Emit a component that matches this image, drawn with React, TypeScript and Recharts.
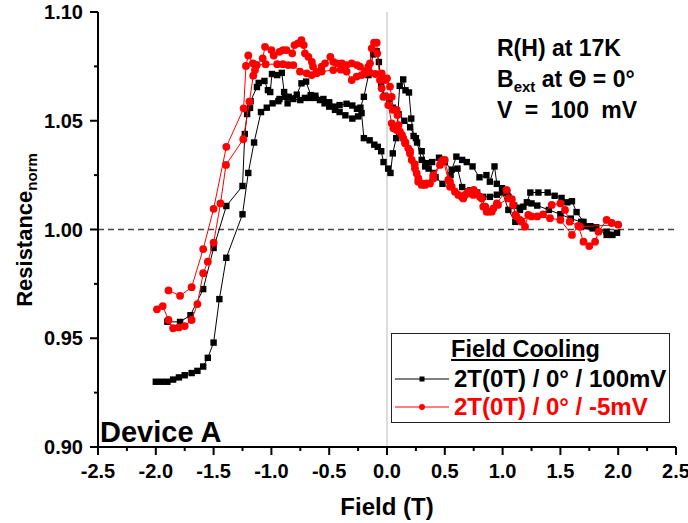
import React from 'react';
import { ScatterChart, Scatter, XAxis, YAxis, ReferenceLine, Legend } from 'recharts';

const FONT = "'Liberation Sans', Arial, Helvetica, sans-serif";
const RED = '#ff0000';

// axis ticks (majors carry labels)
const xTicks = [-2.5, -2.25, -2, -1.75, -1.5, -1.25, -1, -0.75, -0.5, -0.25, 0, 0.25, 0.5, 0.75, 1, 1.25, 1.5, 1.75, 2, 2.25, 2.5];
const xLabels = [-2.5, -2, -1.5, -1, -0.5, 0, 0.5, 1, 1.5, 2, 2.5];
const yTicks = [0.9, 0.925, 0.95, 0.975, 1, 1.025, 1.05, 1.075, 1.1];
const yLabels = [0.9, 0.95, 1, 1.05, 1.1];

// 2T(0T) / 0° / 100mV  (sweep out from -2 T, then back)
const blackField = [
  -2.0, -1.95, -1.9, -1.85, -1.8, -1.75, -1.69, -1.64, -1.59, -1.55,
  -1.5, -1.45, -1.39, -1.25, -1.2, -1.15, -1.09, -1.04, -0.99, -0.94,
  -0.93, -0.88, -0.86, -0.81, -0.75, -0.71, -0.67, -0.62, -0.58, -0.54,
  -0.5, -0.45, -0.41, -0.36, -0.3, -0.25, -0.22, -0.2, -0.15, -0.11,
  -0.08, -0.05, -0.03, 0.01, 0.03, 0.05, 0.08, 0.11, 0.14, 0.16,
  0.19, 0.21, 0.23, 0.26, 0.3, 0.33, 0.36, 0.4, 0.42, 0.48,
  0.55, 0.61, 0.65, 0.72, 0.78, 0.83, 0.89, 0.95, 1.0, 1.05,
  1.11, 1.15, 1.18, 1.21, 1.24, 1.31, 1.39, 1.45, 1.51, 1.56,
  1.6, 1.64, 1.7, 1.76, 1.81, 1.9, 1.95, 1.99,
  1.9, 1.78, 1.71, 1.68, 1.59, 1.5, 1.4, 1.3, 1.25, 1.15,
  1.1, 1.05, 1.04, 0.995, 0.95, 0.93, 0.89, 0.86, 0.8, 0.74,
  0.69, 0.65, 0.6, 0.56, 0.5, 0.45, 0.39, 0.34, 0.3, 0.25,
  0.2, 0.15, 0.1, 0.05, 0.02, -0.02, -0.05, -0.07, -0.09, -0.12,
  -0.16, -0.2, -0.23, -0.26, -0.3, -0.35, -0.41, -0.45, -0.5, -0.55,
  -0.62, -0.66, -0.7, -0.74, -0.78, -0.85, -0.89, -0.91, -0.95, -0.995,
  -1.01, -1.03, -1.06, -1.11, -1.125, -1.18, -1.185, -1.21, -1.23, -1.25,
  -1.39, -1.5, -1.59, -1.7, -1.79, -1.9
];
const blackRes = [
  0.93, 0.93, 0.93, 0.931, 0.932, 0.933, 0.934, 0.935, 0.937, 0.941,
  0.948, 0.968, 0.987, 1.007, 1.026, 1.04, 1.054, 1.056, 1.058, 1.059,
  1.06, 1.061, 1.058, 1.06, 1.0595, 1.0605, 1.0605, 1.0605, 1.0595, 1.058,
  1.0565, 1.055, 1.054, 1.0525, 1.051, 1.052, 1.0535, 1.042, 1.041, 1.039,
  1.038, 1.036, 1.031, 1.028, 1.026, 1.035, 1.042, 1.066, 1.069, 1.064,
  1.063, 1.051, 1.043, 1.04, 1.032, 1.029, 1.028, 1.026, 1.024, 1.021,
  1.025, 1.028, 1.0195, 1.018, 1.017, 1.015, 1.015, 1.016, 1.017, 1.009,
  1.0035, 1.009, 1.0105, 1.0125, 1.017, 1.017, 1.017, 1.0155, 1.0145, 1.0125,
  1.013, 1.008, 1.0035, 1.0015, 1.001, 0.9975, 0.9975, 0.9985,
  0.999, 1.0005, 1.0015, 1.0035, 1.005, 1.007, 1.009, 1.011, 1.012, 1.01,
  1.011, 1.015, 1.017, 1.019, 1.021, 1.029, 1.022, 1.025, 1.024, 1.029,
  1.031, 1.032, 1.0335, 1.0275, 1.031, 1.033, 1.031, 1.0305, 1.036, 1.042,
  1.047, 1.05, 1.053, 1.056, 1.06, 1.0615, 1.066, 1.077, 1.082, 1.0805,
  1.071, 1.061, 1.056, 1.0555, 1.057, 1.0578, 1.0572, 1.0565, 1.0585, 1.06,
  1.0615, 1.0618, 1.068, 1.0672, 1.062, 1.061, 1.0632, 1.072, 1.071, 1.0715,
  1.0632, 1.0641, 1.0683, 1.0674, 1.0655, 1.059, 1.0559, 1.0531, 1.0439, 1.02,
  1.0108, 0.9915, 0.9726, 0.9606, 0.9575, 0.9576
];

// 2T(0T) / 0° / -5mV
const redField = [
  -1.89, -1.79, -1.69, -1.59, -1.5, -1.39, -1.24, -1.22, -1.2, -1.16,
  -1.13, -1.075, -1.055, -1.0, -0.98, -0.93, -0.9, -0.87, -0.82, -0.8,
  -0.77, -0.74, -0.72, -0.71, -0.68, -0.65, -0.64, -0.61, -0.565, -0.536,
  -0.49, -0.465, -0.435, -0.39, -0.35, -0.305, -0.26, -0.234, -0.19, -0.15,
  -0.1, -0.046, -0.017, 0.0, 0.026, 0.041, 0.055, 0.084, 0.09, 0.1,
  0.13, 0.16, 0.2, 0.24, 0.27, 0.3, 0.34, 0.4, 0.47, 0.5,
  0.545, 0.56, 0.617, 0.66, 0.7, 0.75, 0.82, 0.85, 0.88, 0.92,
  0.96, 1.05, 1.09, 1.12, 1.165, 1.194, 1.222, 1.3, 1.41, 1.5,
  1.6, 1.655, 1.7, 1.75, 1.8, 1.83, 1.9, 1.944, 2.0,
  1.67, 1.58, 1.54, 1.5, 1.425, 1.35, 1.25, 1.15, 1.11, 1.08,
  1.035, 0.95, 0.906, 0.862, 0.833, 0.804, 0.776, 0.747, 0.703, 0.675,
  0.646, 0.588, 0.545, 0.53, 0.487, 0.458, 0.4, 0.372, 0.329, 0.3,
  0.271, 0.257, 0.242, 0.214, 0.199, 0.184, 0.156, 0.141, 0.112, 0.084,
  0.055, 0.041, 0.011, -0.003, -0.032, -0.046, -0.061, -0.084, -0.089, -0.112,
  -0.132, -0.147, -0.162, -0.19, -0.219, -0.262, -0.305, -0.349, -0.4, -0.465,
  -0.565, -0.608, -0.651, -0.695, -0.753, -0.81, -0.854, -0.9, -0.95, -1.05,
  -1.127, -1.142, -1.157, -1.19, -1.243, -1.393, -1.44, -1.5, -1.55, -1.59,
  -1.64, -1.69, -1.75, -1.8, -1.85, -1.89, -1.94, -1.99
];
const redRes = [
  0.972, 0.9695, 0.9735, 0.991, 1.0095, 1.038, 1.0557, 1.0752, 1.08, 1.0764,
  1.0756, 1.0787, 1.084, 1.0825, 1.08, 1.0817, 1.0825, 1.0825, 1.081, 1.0848,
  1.0856, 1.0871, 1.0848, 1.081, 1.0794, 1.0771, 1.0749, 1.0726, 1.0749, 1.0764,
  1.0794, 1.0771, 1.0764, 1.0764, 1.0756, 1.0764, 1.0756, 1.0749, 1.0728, 1.0722,
  1.0715, 1.0718, 1.0687, 1.0695, 1.0657, 1.061, 1.055, 1.055, 1.0526, 1.048,
  1.0435, 1.04, 1.036, 1.03, 1.022, 1.0205, 1.0212, 1.025, 1.0312, 1.032,
  1.022, 1.0197, 1.0159, 1.0143, 1.0174, 1.0182, 1.0143, 1.0105, 1.0082, 1.0097,
  1.0113, 1.0143, 1.0113, 1.006, 1.0036, 1.0013, 1.0067, 1.006, 1.0052, 1.0044,
  0.9975, 1.0016, 0.9944, 0.9924, 0.9944, 0.999, 1.0044, 1.003, 1.0022,
  1.0013, 1.0036, 1.009, 1.012, 1.0113, 1.007, 1.006, 1.0044, 1.0067, 1.0139,
  1.0182, 1.012, 1.0082, 1.0082, 1.0105, 1.0151, 1.0166, 1.0159, 1.0166, 1.0159,
  1.0151, 1.0174, 1.0197, 1.0228, 1.032, 1.0297, 1.0235, 1.0212, 1.0205, 1.0212,
  1.0235, 1.0258, 1.0281, 1.032, 1.035, 1.0373, 1.0396, 1.0419, 1.045, 1.0457,
  1.0465, 1.0488, 1.0572, 1.061, 1.061, 1.0649, 1.0687, 1.081, 1.0859, 1.0859,
  1.0833, 1.0764, 1.0749, 1.0718, 1.071, 1.0703, 1.0687, 1.0726, 1.0735, 1.0733,
  1.0726, 1.0718, 1.071, 1.0718, 1.0726, 1.0756, 1.0756, 1.076, 1.076, 1.076,
  1.0756, 1.0733, 1.0707, 1.0588, 1.0415, 1.0297, 1.012, 0.9939, 0.9852, 0.9799,
  0.9657, 0.9584, 0.9556, 0.955, 0.9546, 0.9584, 0.9648, 0.9633
];

const blackData = blackField.map((x, i) => ({ x, y: blackRes[i] }));
const redData = redField.map((x, i) => ({ x, y: redRes[i] }));

const isMajor = (list: number[], v: number) => list.some(m => Math.abs(m - v) < 1e-6);

const labelStyle = { fontFamily: FONT, fontWeight: 700, fill: '#000' } as const;

const BottomTick = ({ x, y, payload }: any) => {
  const major = isMajor(xLabels, payload.value);
  return (
    <g>
      <line x1={x} x2={x} y1={y} y2={y + (major ? 8 : 4)} stroke="#000" strokeWidth={2} />
      {major && (
        <text x={x} y={y + 31} textAnchor="middle" fontSize={20} {...labelStyle}>
          {payload.value.toFixed(1)}
        </text>
      )}
    </g>
  );
};

const TopTick = ({ x, y, payload }: any) => {
  const major = isMajor(xLabels, payload.value);
  return <line x1={x} x2={x} y1={y} y2={y + (major ? 8 : 4)} stroke="#000" strokeWidth={2} />;
};

const LeftTick = ({ x, y, payload }: any) => {
  const major = isMajor(yLabels, payload.value);
  return (
    <g>
      <line x1={x - (major ? 8 : 4)} x2={x} y1={y} y2={y} stroke="#000" strokeWidth={2} />
      {major && (
        <text x={x - 15} y={y + 7} textAnchor="end" fontSize={20} {...labelStyle}>
          {payload.value.toFixed(2)}
        </text>
      )}
    </g>
  );
};

const RightTick = ({ x, y, payload }: any) => {
  const major = isMajor(yLabels, payload.value);
  return <line x1={x - (major ? 8 : 4)} x2={x} y1={y} y2={y} stroke="#000" strokeWidth={2} />;
};

const SquareDot = (p: any) => <rect x={p.cx - 3.2} y={p.cy - 3.2} width={6.4} height={6.4} fill="#000" />;
const RoundDot = (p: any) => <circle cx={p.cx} cy={p.cy} r={3.9} fill={RED} />;

const LegendBox = () => (
  <div
    style={{
      position: 'relative',
      width: 279,
      height: 90,
      border: '1px solid #222',
      boxSizing: 'border-box',
      background: '#fff',
      fontFamily: FONT,
      fontWeight: 700,
      lineHeight: '26px'
    }}
  >
    <div style={{ position: 'absolute', left: 0, right: 10, top: 2, textAlign: 'center', fontSize: 23.5, textDecoration: 'underline' }}>
      Field Cooling
    </div>
    {[
      { label: '2T(0T) / 0° / 100mV', color: '#000', square: true, top: 32 },
      { label: '2T(0T) / 0° / -5mV', color: RED, square: false, top: 60 }
    ].map(row => (
      <div key={row.label} style={{ position: 'absolute', left: 3, top: row.top, height: 26, display: 'flex', alignItems: 'center', whiteSpace: 'nowrap' }}>
        <svg width={56} height={26}>
          <line x1={0} x2={54} y1={13} y2={13} stroke={row.color} strokeWidth={1} />
          {row.square ? (
            <rect x={24.5} y={10.5} width={5} height={5} fill={row.color} />
          ) : (
            <circle cx={27} cy={13} r={3} fill={row.color} />
          )}
        </svg>
        <span style={{ marginLeft: 3, fontSize: 24, color: row.color }}>{row.label}</span>
      </div>
    ))}
  </div>
);

export default function App() {
  const axisLine = { stroke: '#000', strokeWidth: 2 };
  return (
    <div style={{ position: 'absolute', left: 0, top: 0, background: '#fff' }}>
      <ScatterChart width={688} height={523} margin={{ top: 12, right: 12, bottom: 16, left: 38 }}>
        <XAxis
          xAxisId="b"
          type="number"
          dataKey="x"
          domain={[-2.5, 2.5]}
          allowDataOverflow
          ticks={xTicks}
          interval={0}
          tick={BottomTick}
          tickLine={false}
          tickSize={0}
          tickMargin={0}
          axisLine={axisLine}
          height={60}
        />
        <XAxis
          xAxisId="t"
          orientation="top"
          type="number"
          dataKey="x"
          domain={[-2.5, 2.5]}
          allowDataOverflow
          ticks={xTicks}
          interval={0}
          tick={TopTick}
          tickLine={false}
          tickSize={0}
          tickMargin={0}
          axisLine={axisLine}
          height={0}
        />
        <YAxis
          yAxisId="l"
          type="number"
          dataKey="y"
          domain={[0.9, 1.1]}
          allowDataOverflow
          ticks={yTicks}
          interval={0}
          tick={LeftTick}
          tickLine={false}
          tickSize={0}
          tickMargin={0}
          axisLine={axisLine}
          width={60}
        />
        <YAxis
          yAxisId="r"
          orientation="right"
          type="number"
          dataKey="y"
          domain={[0.9, 1.1]}
          allowDataOverflow
          ticks={yTicks}
          interval={0}
          tick={RightTick}
          tickLine={false}
          tickSize={0}
          tickMargin={0}
          axisLine={axisLine}
          width={0}
        />
        <ReferenceLine xAxisId="b" yAxisId="l" x={0} stroke="#bbb" strokeWidth={1} />
        <ReferenceLine xAxisId="b" yAxisId="l" y={1} stroke="#444" strokeWidth={1.5} strokeDasharray="6 4" />
        <Scatter
          name="2T(0T) / 0° / 100mV"
          xAxisId="b"
          yAxisId="l"
          data={blackData}
          line={{ stroke: '#000', strokeWidth: 1 }}
          shape={SquareDot}
          isAnimationActive={false}
        />
        <Scatter
          name="2T(0T) / 0° / -5mV"
          xAxisId="b"
          yAxisId="l"
          data={redData}
          line={{ stroke: RED, strokeWidth: 1 }}
          shape={RoundDot}
          isAnimationActive={false}
        />
        <Legend
          layout="vertical"
          align="center"
          verticalAlign="middle"
          content={LegendBox}
          wrapperStyle={{ left: 391, top: 333, width: 279, height: 90 }}
        />
        <text x={32} y={230} transform="rotate(-90 32 230)" textAnchor="middle" fontSize={22} {...labelStyle}>
          Resistance<tspan fontSize={15} dy={5}>norm</tspan>
        </text>
        <text x={387} y={515} textAnchor="middle" fontSize={24} {...labelStyle}>
          Field (T)
        </text>
        <text x={497} y={56} fontSize={23} {...labelStyle}>
          R(H) at 17K
        </text>
        <text x={497} y={87} fontSize={23} {...labelStyle}>
          B<tspan fontSize={15} dy={5}>ext</tspan>
          <tspan dy={-5}> at Θ = 0°</tspan>
        </text>
        <text x={497} y={118} fontSize={23} wordSpacing={6} {...labelStyle}>
          V = 100 mV
        </text>
        <text x={100} y={442} fontSize={29} {...labelStyle}>
          Device A
        </text>
      </ScatterChart>
    </div>
  );
}
